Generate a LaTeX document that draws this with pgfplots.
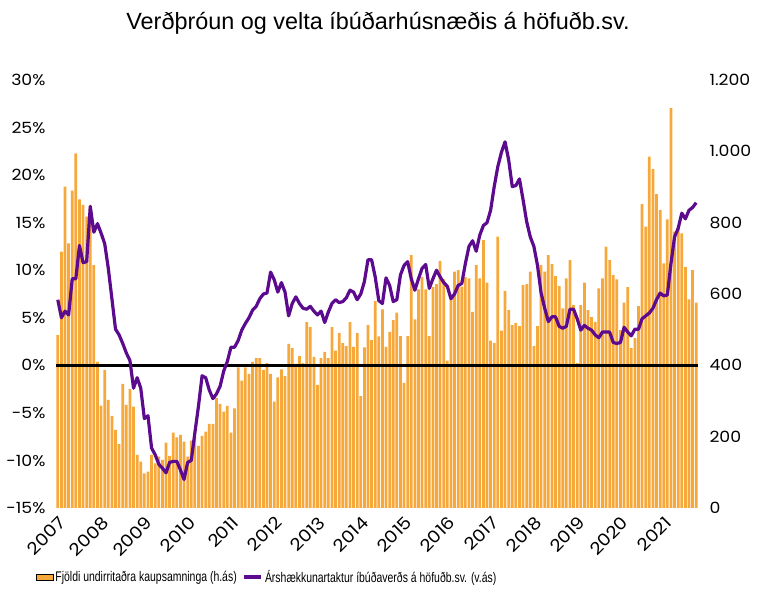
\documentclass[border=0pt]{standalone}
\usepackage{pgfplots}
\usepackage{pgfplotstable}
\pgfplotsset{compat=1.18}
\usepackage{fontspec}
\setmainfont{Liberation Sans}
\newfontfamily\tickfont{Poppins}[FakeStretch=1.12]
\newfontfamily\narrowfont{Liberation Sans}[FakeStretch=0.75]
\definecolor{kaup}{HTML}{F7A83A}
\definecolor{verd}{HTML}{5C0A8E}

% m: month index from January 2007, n: signed purchase contracts, p: 12-month price change (%)
\pgfplotstableread{
m n p
0 485 6.9
1 719 5.0
2 901 5.7
3 742 5.3
4 890 9.1
5 994 9.1
6 865 12.6
7 850 10.8
8 817 10.9
9 850 16.7
10 681 14.0
11 410 14.9
12 287 13.9
13 387 12.8
14 303 10.2
15 258 7.0
16 219 3.8
17 179 3.2
18 348 2.3
19 289 1.3
20 333 0.5
21 284 -2.4
22 149 -1.3
23 130 -2.4
24 97 -5.6
25 102 -5.3
26 149 -8.7
27 125 -9.4
28 144 -10.4
29 135 -10.8
30 183 -11.3
31 146 -10.2
32 211 -10.1
33 198 -10.1
34 205 -11.0
35 186 -12.0
36 144 -10.2
37 189 -10.0
38 200 -7.1
39 174 -4.3
40 202 -1.1
41 214 -1.3
42 236 -2.6
43 236 -3.5
44 308 -3.0
45 292 -2.2
46 270 -0.6
47 286 0.4
48 211 1.9
49 279 1.9
50 394 2.6
51 357 3.7
52 394 4.4
53 376 5.0
54 410 5.8
55 420 6.2
56 420 7.0
57 387 7.5
58 406 7.6
59 376 9.8
60 298 9.0
61 366 7.7
62 389 8.7
63 370 7.7
64 460 5.2
65 448 6.5
66 404 7.2
67 426 6.5
68 406 6.0
69 521 5.9
70 507 6.2
71 424 5.7
72 345 5.3
73 420 5.7
74 438 4.5
75 420 5.6
76 507 6.5
77 441 6.9
78 490 6.6
79 462 6.7
80 454 7.1
81 521 7.9
82 452 7.7
83 490 6.9
84 314 7.5
85 450 8.8
86 513 11.1
87 471 11.1
88 580 9.3
89 481 6.8
90 557 6.5
91 452 9.2
92 494 8.4
93 527 6.7
94 548 6.9
95 482 9.5
96 351 10.5
97 482 10.9
98 709 9.1
99 529 7.9
100 613 9.1
101 647 10.2
102 613 10.6
103 482 8.1
104 619 9.1
105 628 10.0
106 693 9.3
107 641 8.7
108 413 8.3
109 585 7.0
110 663 7.5
111 667 8.4
112 621 8.6
113 647 10.7
114 644 12.5
115 550 13.1
116 681 12.0
117 644 13.7
118 751 14.7
119 632 15.0
120 469 16.3
121 462 18.8
122 761 20.9
123 497 22.4
124 609 23.5
125 555 21.6
126 513 18.8
127 518 18.9
128 510 19.6
129 625 17.4
130 628 15.1
131 663 13.5
132 454 12.5
133 510 10.5
134 681 7.6
135 663 6.0
136 709 4.6
137 684 5.1
138 650 5.1
139 622 4.1
140 560 3.9
141 644 4.1
142 695 5.9
143 569 5.9
144 406 4.9
145 569 3.7
146 632 4.2
147 555 3.9
148 535 3.7
149 522 3.2
150 616 2.9
151 644 3.5
152 733 3.5
153 695 3.5
154 653 2.4
155 641 2.3
156 499 2.4
157 576 4.0
158 619 3.5
159 448 3.1
160 476 3.8
161 566 3.8
162 852 4.9
163 789 5.2
164 985 5.5
165 950 6.0
166 880 6.9
167 836 7.6
168 686 7.3
169 809 7.4
170 1121 10.7
171 775 13.5
172 793 14.4
173 770 16.0
174 675 15.4
175 585 16.3
176 667 16.6
177 576 17.1
}\gogn

\pgfplotsset{
  baseaxis/.style={
    at={(56bp,97bp)}, anchor=south west,
    scale only axis, width=642bp, height=428bp,
    xmin=-0.5, xmax=177.5,
    axis line style={draw=none},
    major tick length=0pt,
    tick label style={font=\tickfont\fontsize{15.5}{17}\selectfont},
  }
}

\begin{document}
\begin{tikzpicture}
\useasboundingbox (0,0) rectangle (757bp,605bp);
\node[font=\fontsize{23.5}{27}\selectfont, anchor=base] at (378bp,575bp)
  {Verðþróun og velta íbúðarhúsnæðis á höfuðb.sv.};

% contracts, right-hand axis
\begin{axis}[baseaxis,
  ybar, bar width=2.75bp,
  ymin=0, ymax=1200,
  axis y line*=right, axis x line=none,
  ytick={0,200,400,600,800,1000,1200},
  yticklabels={0,200,400,600,800,1.000,1.200},
  yticklabel style={anchor=west, xshift=8bp},
]
\addplot[fill=kaup, draw=none] table[x=m, y=n] {\gogn};
\end{axis}

% price change, left-hand axis
\begin{axis}[baseaxis,
  ymin=-15, ymax=30,
  axis y line*=left, axis x line*=bottom,
  ytick={-15,-10,-5,0,5,10,15,20,25,30},
  yticklabels={-15\%,-10\%,-5\%,0\%,5\%,10\%,15\%,20\%,25\%,30\%},
  yticklabel style={anchor=east, xshift=-7bp},
  xtick={0,12,...,168},
  xticklabels={2007,2008,2009,2010,2011,2012,2013,2014,2015,2016,2017,2018,2019,2020,2021},
  xticklabel style={font=\tickfont\fontsize{17}{18}\selectfont,
    rotate=45, anchor=north east, inner sep=1pt, xshift=-4bp, yshift=-4bp},
  legend columns=2,
  legend style={at={(0.329,-0.161)}, anchor=center, draw=none, fill=none,
    font=\narrowfont\fontsize{14}{16}\selectfont,
    /tikz/every even column/.append style={column sep=4bp},
    inner sep=0pt},
]
\addlegendimage{area legend, fill=kaup, draw=none}
\addlegendentry{Fjöldi undirritaðra kaupsamninga (h.ás)}
\addplot[black, line width=2.6bp, forget plot] coordinates {(-0.5,0) (177.5,0)};
\addplot[verd, line width=3.2bp, line join=round] table[x=m, y=p] {\gogn};
\addlegendentry{Árshækkunartaktur íbúðaverðs á höfuðb.sv. (v.ás)}
\end{axis}
\end{tikzpicture}
\end{document}
